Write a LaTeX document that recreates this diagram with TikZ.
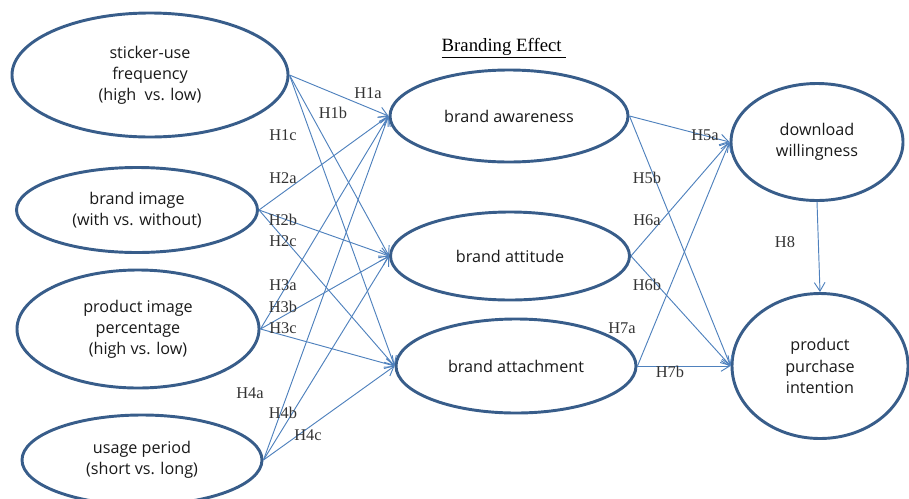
\documentclass[tikz,border=0pt]{standalone}
\usepackage{fontspec}
\setmainfont{Liberation Serif}
\newfontfamily\ovalfont{Open Sans}
\usetikzlibrary{shapes.geometric,arrows.meta}

\definecolor{ovalblue}{RGB}{56,93,138}
\definecolor{lineblue}{RGB}{79,129,189}

\begin{document}
\begin{tikzpicture}[x=0.03cm,y=-0.03cm,
    var/.style={ellipse,draw=ovalblue,line width=2.5pt,inner sep=0pt,align=center,
      font=\ovalfont\fontsize{13.8}{18}\selectfont,text=black!90},
    link/.style={draw=lineblue,line width=0.8pt,-{Straight Barb[length=2.6mm,width=3.2mm]}},
    hyp/.style={font=\fontsize{14}{16}\selectfont,text=black!80,inner sep=0pt}]
          \useasboundingbox (0,0) rectangle (909,498);
          % independent variables
          \node[var,minimum width=8.28cm,minimum height=3.72cm] (freq) at (150,75) {sticker-use\\frequency\\(high~~vs. low)};
          \node[var,minimum width=7.23cm,minimum height=2.55cm] (image) at (137,210) {brand image\\(with vs. without)};
          \node[var,minimum width=7.26cm,minimum height=3.54cm] (percent) at (138,329) {product image\\percentage\\(high vs. low)};
          \node[var,minimum width=7.2cm,minimum height=2.7cm] (period) at (142,460) {usage period\\(short vs. long)};
          % branding effect
          \node (title) at (504,48) {\fontsize{16}{18}\selectfont\underline{Branding Effect\ }};
          \node[var,minimum width=7.14cm,minimum height=2.76cm] (aware) at (509,116) {brand awareness};
          \node[var,minimum width=7.17cm,minimum height=2.64cm] (attitude) at (510,256) {brand attitude};
          \node[var,minimum width=7.2cm,minimum height=2.82cm] (attach) at (516,366) {brand attachment};
          % outcomes
          \node[var,minimum width=5.16cm,minimum height=3.51cm] (download) at (817,142) {download\\willingness};
          \node[var,minimum width=5.28cm,minimum height=4.35cm] (purchase) at (820,366) {product\\purchase\\intention};
          % H1 to H4
          \draw[link] (freq.east) -- (aware.west);
          \draw[link] (freq.east) -- (attitude.west);
          \draw[link] (freq.east) -- (attach.west);
          \draw[link] (image.east) -- (aware.west);
          \draw[link] (image.east) -- (attitude.west);
          \draw[link] (image.east) -- (attach.west);
          \draw[link] (percent.east) -- (aware.west);
          \draw[link] (percent.east) -- (attitude.west);
          \draw[link] (percent.east) -- (attach.west);
          \draw[link] (period.east) -- (aware.west);
          \draw[link] (period.east) -- (attitude.west);
          \draw[link] (period.east) -- (attach.west);
          % H5 to H8
          \draw[link] (aware.east) -- (download.west);
          \draw[link] (aware.east) -- (purchase.west);
          \draw[link] (attitude.east) -- (download.west);
          \draw[link] (attitude.east) -- (purchase.west);
          \draw[link] (attach.east) -- (download.west);
          \draw[link] (attach.east) -- (purchase.west);
          \draw[link] (download.south) -- (purchase.north);
          % hypothesis labels
          \node[hyp] (h1a) at (368,93) {H1a};
          \node[hyp] (h1b) at (333,113) {H1b};
          \node[hyp] (h1c) at (283,135) {H1c};
          \node[hyp] (h2a) at (283,178) {H2a};
          \node[hyp] (h2b) at (283,220) {H2b};
          \node[hyp] (h2c) at (283,241) {H2c};
          \node[hyp] (h3a) at (283,285) {H3a};
          \node[hyp] (h3b) at (283,307) {H3b};
          \node[hyp] (h3c) at (283,328) {H3c};
          \node[hyp] (h4a) at (250,393) {H4a};
          \node[hyp] (h4b) at (283,413) {H4b};
          \node[hyp] (h4c) at (308,435) {H4c};
          \node[hyp] (h5a) at (705,135) {H5a};
          \node[hyp] (h5b) at (647,178) {H5b};
          \node[hyp] (h6a) at (647,220) {H6a};
          \node[hyp] (h6b) at (647,285) {H6b};
          \node[hyp] (h7a) at (622,328) {H7a};
          \node[hyp] (h7b) at (670,372) {H7b};
          \node[hyp] (h8) at (785,242) {H8};
        \end{tikzpicture}
\end{document}
